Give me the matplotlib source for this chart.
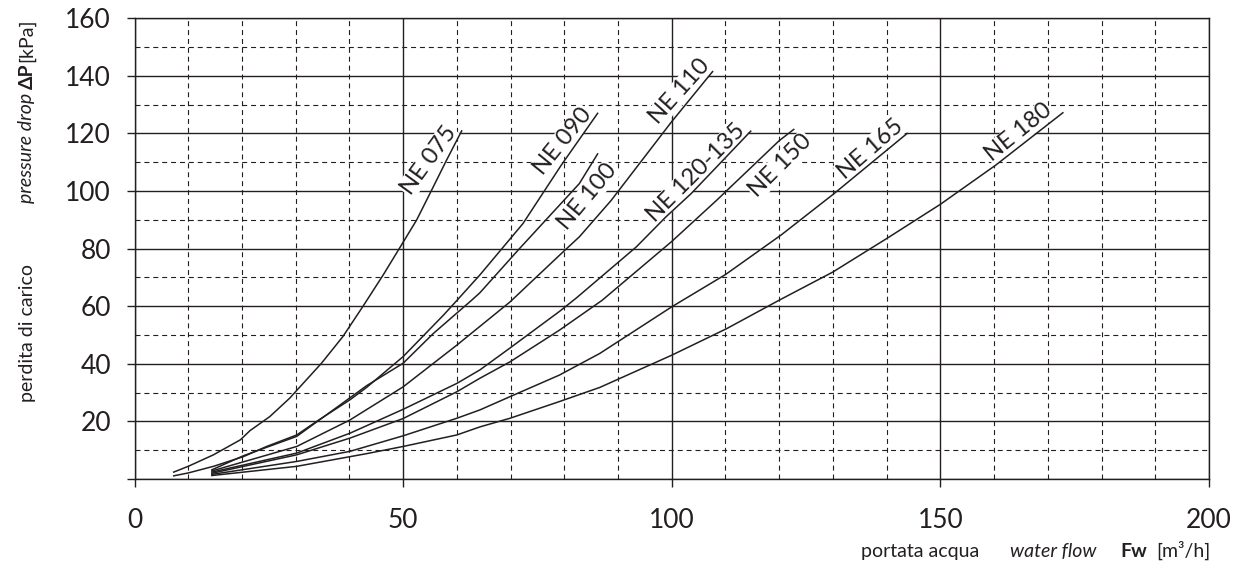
import numpy as np
import matplotlib
matplotlib.use('Agg')
import matplotlib.pyplot as plt
from matplotlib.ticker import MultipleLocator

plt.rcParams['font.family'] = ['Lato', 'DejaVu Sans']

INK = '#231f20'

# water flow [m3/h] and pressure drop [kPa]
ne075_q = [7.3, 10, 14.7, 19.7, 21.5, 25.2, 28.9, 34.8, 38.8, 42.5, 46.3, 49.7, 52.5, 55.3, 58.1, 60.9]
ne075_dp = [2.4, 4.4, 8.4, 13.6, 16.8, 21.7, 28.1, 40.2, 49.5, 59.9, 70.9, 81.3, 89.9, 100.3, 110.8, 120.9]

ne090_q = [7.3, 10, 14.7, 20.3, 24.6, 30.2, 33.9, 40.1, 43.2, 50, 57.5, 60, 64.3, 72.3, 79.4, 86.2]
ne090_dp = [1.1, 2.1, 4.4, 7.8, 11.3, 15.3, 20, 27.5, 31.8, 42.5, 56.9, 62, 70.9, 88.7, 108.9, 127]

ne100_q = [14.4, 20.3, 30.2, 37, 43.2, 50, 55.6, 62.7, 64.3, 71.7, 82.8, 86.2]
ne100_dp = [3.2, 8.1, 14.8, 24, 32.4, 40.2, 50.5, 62, 64.7, 80.1, 102.6, 112.9]

ne110_q = [14.4, 30.2, 40.1, 50, 60, 69.9, 79.1, 82.8, 88.7, 99.9, 107.6]
ne110_dp = [2.8, 11.3, 20.5, 32, 46.5, 61.5, 77.7, 84.1, 96.7, 123.9, 141.5]

ne120_q = [14.4, 30.2, 40.1, 50, 60, 64.3, 69.9, 79.1, 82.2, 93.4, 98.9, 103.6, 114.7]
ne120_dp = [2.4, 9, 15.9, 24.2, 33.2, 37.9, 45.5, 58.2, 62.8, 80.6, 91, 99.1, 120.8]

ne150_q = [14.4, 30.2, 40.1, 50, 60, 64.3, 69.9, 79.1, 87, 100, 108.3, 120, 122.7]
ne150_dp = [2.0, 8.4, 14.2, 21, 30.3, 35, 40.7, 51.7, 62, 82.5, 96.7, 117.5, 121.4]

ne165_q = [14.4, 30.2, 40.1, 50, 60, 64.3, 69.9, 79.1, 86.6, 100, 110, 120.4, 130.2, 143.8]
ne165_dp = [1.6, 6.1, 9.6, 15, 21.1, 24, 28.6, 36.1, 43.6, 59.8, 71, 84.8, 99.1, 120]

ne180_q = [14.4, 30.2, 43.2, 50, 60, 64.3, 69.9, 79.1, 86.6, 100, 110.2, 120, 130, 140, 150, 160.3, 172.8]
ne180_dp = [1.2, 4.4, 8.8, 11.3, 15.3, 18.1, 21.1, 26.9, 31.8, 43, 52.2, 62.1, 71.9, 83.5, 95.4, 109, 127.2]

names = ['NE 075', 'NE 090', 'NE 100', 'NE 110', 'NE 120-135', 'NE 150', 'NE 165', 'NE 180']
flows = [ne075_q, ne090_q, ne100_q, ne110_q, ne120_q, ne150_q, ne165_q, ne180_q]
drops = [ne075_dp, ne090_dp, ne100_dp, ne110_dp, ne120_dp, ne150_dp, ne165_dp, ne180_dp]

# label angle (deg), side of curve, shift back along curve, sideways gap, extra dx, dy (px)
label_style = {
    'NE 075': (54, 'above', 4, 3, 0, 0),
    'NE 090': (51, 'above', 4, 3, 0, 0),
    'NE 100': (50, 'below', -6, 4, 0, -8),
    'NE 110': (48, 'above', 4, 3, 3, 6),
    'NE 120-135': (45, 'above', 4, 3, 0, 0),
    'NE 150': (45, 'below', -6, 4, 0, -2),
    'NE 165': (41, 'above', 4, 3, 2, 6),
    'NE 180': (39, 'above', 10, 3, 0, 4),
}

fig = plt.figure(figsize=(12.43, 5.76), dpi=100)
ax = fig.add_axes([134.5 / 1243, 1 - 479 / 576, (1209 - 134.5) / 1243, (479 - 18.3) / 576])

ax.set_xlim(0, 200)
ax.set_ylim(0, 160)
ax.xaxis.set_major_locator(MultipleLocator(50))
ax.xaxis.set_minor_locator(MultipleLocator(10))
ax.yaxis.set_major_locator(MultipleLocator(20))
ax.yaxis.set_minor_locator(MultipleLocator(10))
ax.set_axisbelow(True)
ax.grid(which='major', color=INK, lw=1.0, ls='-')
ax.grid(which='minor', color=INK, lw=0.8, ls=(0, (4.5, 3.5)))
for s in ax.spines.values():
    s.set_color(INK)
    s.set_linewidth(1.0)

ax.tick_params(which='major', direction='out', length=6, width=1.0, color=INK,
               labelsize=19, labelcolor=INK)
ax.tick_params(axis='x', which='major', pad=15)
ax.tick_params(axis='y', which='major', pad=11)
ax.tick_params(which='minor', length=0)
yt = np.arange(0, 161, 20)
ax.set_yticks(yt)
ax.set_yticklabels(['' if v == 0 else str(v) for v in yt])

for name, q, dp in zip(names, flows, drops):
    ax.plot(q, dp, color=INK, lw=1.1, zorder=3)
    ang, side, back, off, ex, ey = label_style[name]
    t = np.radians(ang)
    if side == 'above':
        dx = -back * np.cos(t) - off * np.sin(t)
        dy = -back * np.sin(t) + off * np.cos(t)
        va = 'baseline'
    else:
        dx = -back * np.cos(t) + off * np.sin(t)
        dy = -back * np.sin(t) - off * np.cos(t)
        va = 'top'
    ax.annotate(name, (q[-1], dp[-1]), xytext=((dx + ex) * 0.72, (dy + ey) * 0.72),
                textcoords='offset points', rotation=ang, rotation_mode='anchor',
                ha='right', va=va, fontsize=17, color=INK, zorder=2,
                bbox=dict(facecolor='white', edgecolor='none', pad=0.5))

# axis titles built from pieces (regular / italic / bold)
def ftxt(x, y, s, **kw):
    fig.text(x / 1243, 1 - y / 576, s, color=INK, fontsize=14, **kw)

rot = dict(rotation=90, rotation_mode='anchor', va='center')
ftxt(27, 402, 'perdita di carico', ha='left', **rot)
ftxt(27, 93, 'pressure drop', ha='right', style='italic', **rot)
ftxt(27, 63, 'ΔP', ha='right', weight='bold', **rot)
ftxt(27, 18, '[kPa]', ha='right', **rot)

ftxt(861, 557, 'portata acqua', ha='left', va='baseline')
ftxt(1097, 557, 'water flow', ha='right', va='baseline', style='italic')
ftxt(1147, 557, 'Fw', ha='right', va='baseline', weight='bold')
ftxt(1210, 557, '[m³/h]', ha='right', va='baseline')

fig.savefig('out.png', dpi=100)
